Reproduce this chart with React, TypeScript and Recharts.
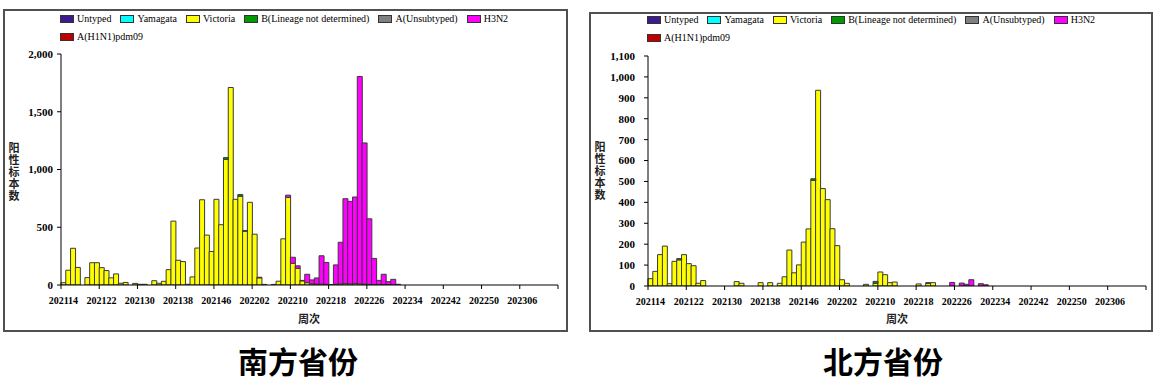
import React from 'react';
import { BarChart, Bar, XAxis, YAxis } from 'recharts';

// ---------- categories (ISO weeks) ----------
const WEEKS: string[] = [
  '202114','202115','202116','202117','202118','202119','202120','202121','202122','202123',
  '202124','202125','202126','202127','202128','202129','202130','202131','202132','202133',
  '202134','202135','202136','202137','202138','202139','202140','202141','202142','202143',
  '202144','202145','202146','202147','202148','202149','202150','202151','202152',
  '202201','202202','202203','202204','202205','202206','202207','202208','202209','202210',
  '202211','202212','202213','202214','202215','202216','202217','202218','202219','202220',
  '202221','202222','202223','202224','202225','202226','202227','202228','202229','202230',
  '202231','202232','202233','202234','202235','202236','202237','202238','202239','202240',
  '202241','202242','202243','202244','202245','202246','202247','202248','202249','202250',
  '202251','202252',
  '202301','202302','202303','202304','202305','202306','202307','202308','202309','202310',
  '202311','202312','202313',
];

const SERIES_NAMES = ['Untyped', 'Yamagata', 'Victoria', 'B(Lineage not determined)', 'A(Unsubtyped)', 'H3N2', 'A(H1N1)pdm09'];
const SERIES_COLORS = ['#3c1c8c', '#00ffff', '#ffff00', '#009a00', '#808080', '#ff00ff', '#c00000'];

// ---------- South (南方省份) ----------
const southUntyped: number[] = [];
const southYamagata: number[] = [];
const southVictoria: number[] = [
  20, 128, 318, 152, 0, 64, 193, 193, 150, 125,
  62, 96, 15, 22, 0, 14, 6, 6, 0, 37,
  15, 32, 133, 553, 214, 203, 6, 70, 320, 738,
  432, 290, 742, 522, 1088, 1710, 742, 768, 466, 716,
  440, 62, 5, 0, 5, 33, 400, 758, 188, 144,
  36, 20, 10, 8, 8, 6, 3, 6, 10, 12,
  10, 12, 10, 8, 5, 4, 3, 3, 2, 2,
];
const southB: number[] = [
  0, 0, 0, 0, 0, 0, 0, 0, 0, 0,
  0, 0, 0, 0, 0, 0, 0, 0, 0, 0,
  0, 0, 0, 0, 0, 0, 0, 0, 0, 0,
  0, 0, 0, 0, 15, 0, 0, 15, 5, 0,
  0, 5,
];
const southAUnsub: number[] = [];
const southH3N2: number[] = [
  0, 0, 0, 0, 0, 0, 0, 0, 0, 0,
  0, 0, 0, 0, 0, 0, 0, 0, 0, 0,
  0, 0, 0, 0, 0, 0, 0, 0, 0, 0,
  0, 0, 0, 0, 0, 0, 0, 0, 0, 0,
  0, 0, 0, 0, 0, 0, 0, 20, 52, 22,
  4, 73, 34, 53, 245, 189, 0, 168, 360, 735,
  714, 750, 1795, 1222, 568, 226, 37, 90, 27, 47,
  6,
];
const southH1N1: number[] = [];

// ---------- North (北方省份) ----------
const northUntyped: number[] = [];
const northYamagata: number[] = [];
const northVictoria: number[] = [
  35, 70, 150, 191, 11, 118, 125, 150, 107, 97,
  13, 26, 0, 0, 0, 0, 0, 0, 21, 13,
  0, 0, 0, 16, 0, 16, 0, 13, 44, 172,
  63, 101, 210, 273, 505, 936, 466, 413, 274, 193,
  30, 13, 0, 0, 0, 8, 0, 12, 67, 54,
  16, 19, 0, 0, 0, 0, 10, 0, 12, 16,
];
const northB: number[] = [
  0, 0, 0, 0, 0, 0, 6, 0, 0, 0,
  0, 0, 0, 0, 0, 0, 0, 0, 0, 0,
  0, 0, 0, 0, 0, 0, 0, 0, 0, 0,
  0, 0, 0, 0, 8, 0, 0, 0, 0, 0,
  0, 0, 0, 0, 0, 0, 0, 10,
];
const northAUnsub: number[] = [];
const northH3N2: number[] = [
  0, 0, 0, 0, 0, 0, 0, 0, 0, 0,
  0, 0, 0, 0, 0, 0, 0, 0, 0, 0,
  0, 0, 0, 0, 0, 0, 0, 0, 0, 0,
  0, 0, 0, 0, 0, 0, 0, 0, 0, 0,
  0, 0, 0, 0, 0, 0, 0, 0, 0, 0,
  0, 0, 0, 0, 0, 0, 0, 0, 4, 0,
  0, 0, 0, 17, 0, 14, 8, 30, 0, 11,
  6,
];
const northH1N1: number[] = [];

// ---------- axis ticks ----------
const SOUTH_Y_TICKS = [0, 500, 1000, 1500, 2000];
const NORTH_Y_TICKS = [0, 100, 200, 300, 400, 500, 600, 700, 800, 900, 1000, 1100];
const X_TICK_STEP = 8;

const SERIF = '"Liberation Serif", "Times New Roman", serif';
const CJK = '"Noto Sans CJK SC", "Noto Sans", sans-serif';

function buildRows(series: number[][]) {
  return WEEKS.map((week, i) => {
    const row: Record<string, string | number> = { week };
    SERIES_NAMES.forEach((name, s) => {
      row[name] = series[s][i] ?? 0;
    });
    return row;
  });
}

const southRows = buildRows([southUntyped, southYamagata, southVictoria, southB, southAUnsub, southH3N2, southH1N1]);
const northRows = buildRows([northUntyped, northYamagata, northVictoria, northB, northAUnsub, northH3N2, northH1N1]);

const fmt = (v: number) => v.toLocaleString('en-US');

function makeXTick(bandW: number) {
  return (props: any) => {
    const { x, y, payload } = props;
    const idx = WEEKS.indexOf(String(payload.value));
    const left = x - bandW / 2;
    const isLast = idx + X_TICK_STEP >= WEEKS.length;
    return (
      <g>
        <line x1={left} y1={y} x2={left} y2={y + 4} stroke="#000" strokeWidth={1} />
        {isLast && (
          <line
            x1={left + (WEEKS.length - idx) * bandW}
            y1={y}
            x2={left + (WEEKS.length - idx) * bandW}
            y2={y + 4}
            stroke="#000"
            strokeWidth={1}
          />
        )}
        <text x={x} y={y + 19} textAnchor="middle" fontSize={10} fontWeight="bold" fontFamily={SERIF} fill="#000">
          {payload.value}
        </text>
      </g>
    );
  };
}

interface PanelProps {
  rows: Record<string, string | number>[];
  yMax: number;
  yTicks: number[];
  chartLeft: number;
  chartW: number;
  chartH: number;
  yAxisW: number;
  marginTop: number;
  marginRight: number;
  marginBottom: number;
  tickMargin: number;
}

function Panel(p: PanelProps) {
  const plotW = p.chartW - p.yAxisW - p.marginRight;
  const bandW = plotW / WEEKS.length;
  return (
    <div style={{ position: 'absolute', left: p.chartLeft, top: 0 }}>
      <BarChart
        width={p.chartW}
        height={p.chartH}
        data={p.rows}
        margin={{ top: p.marginTop, right: p.marginRight, bottom: p.marginBottom, left: 0 }}
        barCategoryGap={0}
        barGap={0}
      >
        <XAxis
          dataKey="week"
          interval={X_TICK_STEP - 1}
          tickLine={false}
          tickSize={0}
          tickMargin={0}
          height={30}
          axisLine={{ stroke: '#000', strokeWidth: 1 }}
          tick={makeXTick(bandW)}
        />
        <YAxis
          width={p.yAxisW}
          domain={[0, p.yMax]}
          ticks={p.yTicks}
          interval={0}
          tickFormatter={fmt}
          tickSize={4}
          tickMargin={p.tickMargin}
          axisLine={{ stroke: '#000', strokeWidth: 1 }}
          tickLine={{ stroke: '#000', strokeWidth: 1 }}
          tick={{ fontSize: 11, fontFamily: SERIF, fontWeight: 'bold', fill: '#000' }}
          allowDataOverflow
        />
        {SERIES_NAMES.map((name, s) => (
          <Bar
            key={name}
            dataKey={name}
            stackId="a"
            fill={SERIES_COLORS[s]}
            stroke="#3a3a3a"
            strokeWidth={1}
            isAnimationActive={false}
          />
        ))}
      </BarChart>
    </div>
  );
}

function LegendItem({ name, color }: { name: string; color: string }) {
  return (
    <div style={{ display: 'flex', alignItems: 'center', marginRight: 9 }}>
      <div style={{ width: 12, height: 6, background: color, border: '1px solid #333' }} />
      <span style={{ marginLeft: 3, fontFamily: SERIF, fontSize: 10, color: '#000', whiteSpace: 'nowrap' }}>{name}</span>
    </div>
  );
}

function Legend({ left, top }: { left: number; top: number }) {
  return (
    <div style={{ position: 'absolute', left, top, lineHeight: '12px' }}>
      <div style={{ display: 'flex', height: 18, alignItems: 'center' }}>
        {SERIES_NAMES.slice(0, 6).map((n, i) => (
          <LegendItem key={n} name={n} color={SERIES_COLORS[i]} />
        ))}
      </div>
      <div style={{ display: 'flex', height: 18, alignItems: 'center' }}>
        <LegendItem name={SERIES_NAMES[6]} color={SERIES_COLORS[6]} />
      </div>
    </div>
  );
}

function YTitle({ left, top }: { left: number; top: number }) {
  return (
    <div
      style={{
        position: 'absolute',
        left,
        top,
        writingMode: 'vertical-rl',
        fontFamily: CJK,
        fontWeight: 'bold',
        fontSize: 11,
        lineHeight: '12px',
        letterSpacing: '1px',
        color: '#222',
      }}
    >
      阳性标本数
    </div>
  );
}

function XTitle({ center, top }: { center: number; top: number }) {
  return (
    <div
      style={{
        position: 'absolute',
        left: center - 40,
        width: 80,
        top,
        textAlign: 'center',
        fontFamily: CJK,
        fontWeight: 'bold',
        fontSize: 11,
        color: '#222',
      }}
    >
      周次
    </div>
  );
}

function Title({ center, text }: { center: number; text: string }) {
  return (
    <div
      style={{
        position: 'absolute',
        left: center - 100,
        width: 200,
        top: 340,
        textAlign: 'center',
        fontFamily: CJK,
        fontWeight: 'bold',
        fontSize: 30,
        lineHeight: '40px',
        color: '#000',
      }}
    >
      {text}
    </div>
  );
}

export default function App() {
  return (
    <div style={{ position: 'absolute', left: 0, top: 0, width: 1159, height: 388, background: '#fff', overflow: 'hidden' }}>
      {/* panel frames */}
      <div style={{ position: 'absolute', left: 3, top: 9, width: 561, height: 319, border: '2px solid #505050' }} />
      <div style={{ position: 'absolute', left: 589, top: 12, width: 560, height: 316, border: '2px solid #505050' }} />

      <Panel
        rows={southRows}
        yMax={2000}
        yTicks={SOUTH_Y_TICKS}
        chartLeft={0}
        chartW={580}
        chartH={345}
        yAxisW={61}
        marginTop={54}
        marginRight={22}
        marginBottom={30}
        tickMargin={4}
      />
      <Panel
        rows={northRows}
        yMax={1100}
        yTicks={NORTH_Y_TICKS}
        chartLeft={580}
        chartW={579}
        chartH={345}
        yAxisW={68}
        marginTop={56}
        marginRight={13}
        marginBottom={29}
        tickMargin={9}
      />

      <Legend left={60} top={10} />
      <Legend left={647} top={11} />

      <YTitle left={8} top={142} />
      <YTitle left={594} top={141} />

      <XTitle center={309} top={310} />
      <XTitle center={897} top={310} />

      <Title center={298} text="南方省份" />
      <Title center={883} text="北方省份" />
    </div>
  );
}
